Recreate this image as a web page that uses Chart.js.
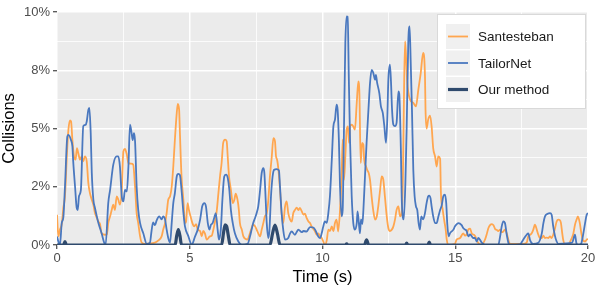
<!DOCTYPE html>
<html>
<head>
<meta charset="utf-8">
<script src="https://cdn.jsdelivr.net/npm/chart.js@4"></script>
<style>
  html, body { margin: 0; padding: 0; background: #fff; }
  #wrap { width: 598px; height: 294px; }
</style>
</head>
<body>
<div id="wrap"><canvas id="collisions" width="598" height="294"></canvas></div>
<script>
// Collision percentage over time (s)
const santeTimes = [
  0.00,0.05,0.11,0.18,0.24,0.30,0.37,0.43,0.49,0.53,
  0.58,0.64,0.70,0.75,0.80,0.87,0.93,0.99,1.05,1.12,
  1.18,1.24,1.31,1.37,1.43,1.50,1.56,1.62,1.68,1.81,
  1.88,1.93,2.00,2.06,2.12,2.18,2.25,2.31,2.37,2.44,
  2.50,2.56,2.63,2.69,2.79,2.87,2.94,3.00,3.06,3.13,
  3.19,3.31,3.69,3.82,3.94,4.00,4.07,4.13,4.19,4.26,
  4.32,4.38,4.44,4.51,4.55,4.60,4.63,4.69,4.76,4.82,
  4.86,4.92,4.97,5.03,5.10,5.17,5.24,5.30,5.39,5.45,
  5.51,5.57,5.64,5.76,5.83,5.89,5.95,6.02,6.08,6.14,
  6.20,6.26,6.33,6.39,6.43,6.48,6.55,6.62,6.68,6.73,
  6.77,6.82,6.85,6.89,6.96,7.02,7.18,7.23,7.31,7.39,
  7.46,7.52,7.58,7.65,7.71,7.77,7.83,7.90,7.96,8.02,
  8.09,8.15,8.21,8.25,8.29,8.34,8.40,8.46,8.52,8.59,
  8.65,8.71,8.78,8.84,8.90,8.96,9.03,9.09,9.15,9.22,
  9.28,9.34,9.40,9.47,9.53,9.59,9.65,9.72,9.78,9.84,
  9.91,9.97,10.03,10.09,10.16,10.22,10.28,10.35,10.41,10.47,
  10.53,10.59,10.66,10.72,10.76,10.81,10.86,10.91,10.96,11.00,
  11.04,11.10,11.16,11.22,11.29,11.35,11.39,11.44,11.49,11.54,
  11.57,11.64,11.69,11.74,11.79,11.85,11.91,11.98,12.04,12.10,
  12.17,12.23,12.29,12.35,12.42,12.48,12.54,12.61,12.67,12.73,
  12.79,12.86,12.92,12.98,13.03,13.07,13.11,13.15,13.19,13.30,
  13.42,13.52,13.61,13.70,13.79,13.86,13.88,13.92,13.98,14.05,
  14.11,14.17,14.24,14.30,14.36,14.43,14.46,14.53,14.58,14.64,
  14.68,14.73,14.99,15.05,15.18,15.30,15.37,15.43,15.49,15.56,
  15.62,15.74,15.86,16.00,16.12,16.18,16.25,16.31,16.38,16.44,
  16.50,16.56,16.62,16.69,16.75,16.81,16.87,16.94,17.00,17.06,
  17.56,17.69,17.75,17.82,17.88,17.94,18.00,18.07,18.13,18.19,
  18.26,18.32,18.38,18.44,18.50,18.57,18.63,18.69,18.76,18.82,
  18.88,18.94,18.98,19.03,19.07,19.13,19.26,19.39,19.45,19.51,
  19.57,19.62,19.69,19.75,19.81,19.89,19.95,20.00
];
const santeValues = [
  1.3,0.37,0.66,0.9,1.6,2.09,3.8,4.95,5.35,5.3,
  4.5,3.8,3.66,4.16,3.95,3.66,3.8,3.59,3.8,3.59,
  2.66,2.23,1.94,1.73,1.37,1.16,1.0,0.9,0.5,0.44,
  0.45,0.94,1.23,1.5,1.73,1.5,2.09,1.94,1.73,2.37,
  4.02,4.12,3.88,3.52,3.49,3.45,2.5,1.37,0.94,0.37,
  0.1,0.05,0.1,0.2,0.37,0.66,0.94,1.37,1.94,2.09,
  2.5,3.37,4.52,5.66,6.06,5.8,4.8,2.94,1.94,0.94,
  1.0,1.8,1.5,1.23,0.94,0.8,0.9,0.66,0.6,0.37,
  0.6,0.5,0.23,0.37,0.4,0.66,1.0,1.5,2.23,2.94,
  3.52,4.38,4.52,4.45,3.8,2.94,2.37,1.8,1.94,2.2,
  2.09,1.8,1.5,0.94,0.66,0.37,0.23,0.37,0.66,0.87,
  0.8,0.66,0.5,0.37,0.66,0.94,1.23,1.37,1.94,2.94,
  3.8,4.59,4.45,3.8,3.66,3.23,2.37,1.37,0.94,1.66,
  1.87,1.37,1.09,1.0,1.37,1.5,1.6,1.5,1.59,1.44,
  1.3,1.35,1.16,1.01,0.94,0.8,0.7,0.58,0.44,0.5,
  0.37,0.3,0.15,0.0,0.2,0.66,0.6,0.8,0.6,0.94,
  1.09,0.58,1.5,2.94,4.52,2.8,3.8,4.95,5.09,4.38,
  5.09,5.16,5.09,4.95,6.1,7.02,6.5,3.52,4.38,4.3,
  3.66,3.37,3.2,3.09,2.8,2.09,1.5,1.09,1.2,1.66,
  2.37,2.94,2.8,2.09,1.23,0.73,0.6,0.66,0.8,1.09,
  1.5,1.66,1.23,1.37,3.0,6.5,8.74,8.0,7.0,6.24,
  6.1,5.95,6.67,7.38,8.24,7.24,5.8,5.0,5.38,5.55,
  5.09,4.15,3.8,3.37,3.8,3.7,2.23,1.5,1.09,0.66,
  0.23,0.0,0.05,0.23,0.3,0.5,0.4,0.45,0.66,0.7,
  0.5,0.4,0.1,0.02,0.23,0.44,0.73,0.85,0.9,0.85,
  0.69,0.65,0.6,0.66,0.55,0.58,0.66,0.5,0.23,0.05,
  0.05,0.1,0.37,0.44,0.5,0.66,0.87,0.66,0.44,0.3,
  0.3,0.4,0.3,0.32,0.3,0.37,0.3,0.44,0.73,1.01,
  1.09,1.07,0.95,0.5,0.2,0.05,0.05,0.3,0.5,0.87,
  1.09,1.23,0.95,0.5,0.2,0.15,0.23,0.26
];

const tailorTimes = [
  0.00,0.05,0.11,0.18,0.24,0.30,0.39,0.43,0.53,0.58,
  0.61,0.68,0.74,0.78,0.83,0.90,0.99,1.08,1.12,1.18,
  1.22,1.27,1.31,1.37,1.43,1.50,1.56,1.68,1.78,1.83,
  1.93,2.00,2.12,2.25,2.31,2.37,2.44,2.50,2.56,2.63,
  2.69,2.75,2.81,2.85,2.90,2.94,3.00,3.06,3.13,3.25,
  3.38,3.50,3.56,3.62,3.69,3.75,3.85,3.94,4.00,4.07,
  4.13,4.19,4.26,4.32,4.38,4.44,4.51,4.57,4.63,4.69,
  4.76,4.82,4.95,5.01,5.07,5.20,5.30,5.39,5.47,5.55,
  5.61,5.68,5.74,5.80,5.86,5.92,5.98,6.05,6.10,6.17,
  6.23,6.30,6.37,6.43,6.49,6.55,6.62,6.70,6.83,6.96,
  7.18,7.27,7.33,7.39,7.46,7.52,7.58,7.65,7.71,7.77,
  7.81,7.86,7.90,7.96,8.00,8.06,8.12,8.18,8.27,8.36,
  8.40,8.46,8.52,8.59,8.71,8.78,8.84,8.96,9.09,9.22,
  9.28,9.40,9.53,9.65,9.72,9.84,9.91,9.97,10.03,10.09,
  10.16,10.22,10.28,10.35,10.41,10.47,10.53,10.57,10.62,10.66,
  10.72,10.76,10.81,10.86,10.91,10.95,10.99,11.04,11.10,11.16,
  11.22,11.29,11.32,11.37,11.41,11.45,11.50,11.54,11.60,11.66,
  11.73,11.79,11.85,11.91,11.98,12.01,12.06,12.14,12.20,12.27,
  12.33,12.39,12.44,12.48,12.54,12.58,12.62,12.67,12.73,12.79,
  12.86,12.89,12.95,12.99,13.06,13.12,13.17,13.23,13.28,13.32,
  13.37,13.42,13.47,13.52,13.57,13.62,13.67,13.72,13.79,13.86,
  13.92,13.98,14.02,14.07,14.11,14.17,14.24,14.30,14.36,14.43,
  14.49,14.55,14.61,14.66,14.70,14.75,14.80,14.93,14.99,15.12,
  15.24,15.30,15.37,15.43,15.49,15.56,15.68,15.74,15.81,15.87,
  16.00,16.12,16.62,16.69,16.75,16.81,16.87,16.94,17.00,17.06,
  17.44,17.56,17.69,17.75,17.82,17.93,18.13,18.26,18.32,18.38,
  18.48,18.57,18.63,18.69,18.76,18.82,18.88,19.40,19.51,19.56,
  19.62,19.74,19.81,19.89,19.95,20.00
];
const tailorValues = [
  0.37,0.15,0.0,0.95,1.2,2.5,4.66,4.73,4.5,4.23,
  3.6,2.5,1.6,1.5,2.1,2.37,5.1,5.16,5.3,5.8,
  5.88,4.8,3.1,1.94,1.59,1.23,0.94,0.5,0.09,0.0,
  1.8,2.37,3.45,3.8,3.8,3.37,2.09,1.87,2.37,2.3,
  3.37,5.16,4.8,4.5,4.8,4.45,2.5,1.5,0.94,0.5,
  0.05,0.1,0.6,0.97,0.85,1.05,1.23,1.1,1.23,1.1,
  0.66,0.3,0.1,0.94,1.8,2.23,2.94,3.05,3.0,2.37,
  1.4,0.8,0.37,0.15,0.0,0.37,0.66,1.09,1.66,1.8,
  1.66,0.94,0.66,0.87,0.94,1.16,1.37,0.66,0.23,0.66,
  1.94,2.94,3.02,2.88,2.37,1.5,0.94,0.5,0.15,0.0,
  0.05,0.37,0.66,0.94,1.16,1.37,1.66,2.37,3.09,3.3,
  3.1,1.94,0.94,0.3,0.6,2.09,2.94,3.23,3.26,3.2,
  2.5,1.37,0.66,0.23,0.3,0.5,0.58,0.44,0.66,0.55,
  0.6,0.58,0.77,0.75,0.66,0.37,0.3,0.5,0.8,1.01,
  0.95,1.37,2.09,3.66,5.09,5.38,6.02,5.8,4.38,2.5,
  1.23,1.5,5.09,8.67,9.81,9.8,7.24,4.38,2.09,0.94,
  0.66,0.94,1.44,0.94,0.5,1.1,0.9,1.5,2.94,4.38,
  5.8,6.95,7.52,7.4,7.09,7.3,6.95,6.52,5.95,5.67,
  5.09,4.38,5.38,7.09,7.74,7.0,5.8,5.16,5.1,5.24,
  6.59,6.5,4.19,1.8,1.1,2.6,5.0,8.67,9.38,7.95,
  5.8,3.23,2.09,1.66,1.5,0.94,0.66,1.23,1.1,1.37,
  1.8,2.09,2.12,2.0,1.66,1.23,0.94,0.94,1.2,1.5,
  1.7,2.09,2.16,1.8,0.9,0.37,0.5,0.66,0.8,0.94,
  0.85,0.73,0.66,0.6,0.37,0.45,0.3,0.3,0.15,0.3,
  0.1,0.0,0.0,0.37,0.8,1.01,0.95,0.44,0.1,0.0,
  0.03,0.23,0.44,0.5,0.2,0.05,0.1,0.5,0.94,1.23,
  1.34,1.37,1.3,0.8,0.37,0.15,0.05,0.1,0.44,0.1,
  0.0,0.05,0.4,0.94,1.3,1.37
];

const oursTimes = [0,0.25,0.3,0.35, 4.45,4.51,4.57,4.63,4.69, 6.2,6.27,6.33,6.39,6.46,6.52,
  8.02,8.12,8.21,8.3,8.4, 10.87,10.91,10.95, 11.58,11.66,11.74, 13.12,13.17,13.22,
  13.97,14.02,14.07, 20];
const oursValues = [0,0,0.15,0, 0,0.4,0.66,0.4,0, 0,0.5,0.87,0.8,0.35,0,
  0,0.5,0.85,0.5,0, 0,0.05,0, 0,0.22,0, 0,0.08,0,
  0,0.12,0, 0];

const seriesNames = ["Santesteban", "TailorNet", "Our method"];
const seriesColors = ["#FFA64F", "#4A78BF", "#2F4A6D"];
const seriesWidths = [1.8, 1.8, 3.2];

const yTickValues = [0, 2.5, 5, 7.5, 10];
const yTickLabels = ["0%", "2%", "5%", "8%", "10%"];
const xTickValues = [0, 5, 10, 15, 20];
const xTickLabels = ["0", "5", "10", "15", "20"];

function toPoints(times, values) {
  const n = Math.min(times.length, values.length);
  const pts = [];
  for (let i = 0; i < n; i++) pts.push({ x: times[i], y: values[i] });
  return pts;
}

// grey ggplot-like panel behind the grid
const panelBackground = {
  id: "panelBackground",
  beforeDraw(chart) {
    const { ctx, chartArea: a } = chart;
    ctx.save();
    ctx.fillStyle = "#EBEBEB";
    ctx.fillRect(a.left, a.top, a.right - a.left, a.bottom - a.top);
    ctx.restore();
  }
};

// legend drawn inside the top right of the panel
const insideLegend = {
  id: "insideLegend",
  afterDatasetsDraw(chart) {
    const { ctx, chartArea: a } = chart;
    const w = 149, h = 95;
    const left = a.right - 2 - w, top = a.top + 2;
    ctx.save();
    ctx.fillStyle = "#FFFFFF";
    ctx.fillRect(left, top, w, h);
    ctx.strokeStyle = "#D9D9D9";
    ctx.lineWidth = 1;
    ctx.strokeRect(left + 0.5, top + 0.5, w - 1, h - 1);
    ctx.font = "13.5px 'Liberation Sans', Arial, sans-serif";
    ctx.textBaseline = "middle";
    chart.data.datasets.forEach((ds, i) => {
      const ky = top + 10 + i * 26.5;
      ctx.fillStyle = "#F0F0F0";
      ctx.fillRect(left + 9, ky, 24, 25);
      const cy = ky + 12.5;
      ctx.strokeStyle = ds.borderColor;
      ctx.lineWidth = ds.borderWidth;
      ctx.beginPath();
      ctx.moveTo(left + 11, cy);
      ctx.lineTo(left + 31, cy);
      ctx.stroke();
      ctx.fillStyle = "#1A1A1A";
      ctx.fillText(ds.label, left + 41, cy + 1);
    });
    ctx.restore();
  }
};

const isMajorY = v => yTickValues.some(t => Math.abs(t - v) < 1e-6);
const isMajorX = v => xTickValues.some(t => Math.abs(t - v) < 1e-6);
const tickFont = { family: "'Liberation Sans', Arial, sans-serif", size: 13 };
const titleFont = { family: "'Liberation Sans', Arial, sans-serif", size: 16.5 };

new Chart(document.getElementById("collisions").getContext("2d"), {
  type: "line",
  data: {
    datasets: [
      { label: seriesNames[0], data: toPoints(santeTimes, santeValues), order: 3 },
      { label: seriesNames[1], data: toPoints(tailorTimes, tailorValues), order: 2 },
      { label: seriesNames[2], data: toPoints(oursTimes, oursValues), order: 1 }
    ].map((ds, i) => Object.assign(ds, {
      borderColor: seriesColors[i],
      backgroundColor: seriesColors[i],
      borderWidth: seriesWidths[i],
      pointRadius: 0,
      fill: false,
      cubicInterpolationMode: "monotone"
    }))
  },
  options: {
    responsive: false,
    animation: false,
    devicePixelRatio: 1,
    layout: { padding: { left: 0, top: 12, right: 10, bottom: 0 } },
    plugins: {
      legend: { display: false },
      tooltip: { enabled: false }
    },
    scales: {
      x: {
        type: "linear",
        min: 0,
        max: 20,
        afterFit: s => { s.height = 49; },
        border: { display: false },
        grid: {
          color: "#FFFFFF",
          lineWidth: c => isMajorX(c.tick.value) ? 1.5 : 0.8,
          tickLength: 4,
          tickColor: c => isMajorX(c.tick.value) ? "#333333" : "rgba(0,0,0,0)",
          tickWidth: 1.1
        },
        ticks: {
          stepSize: 2.5,
          autoSkip: false,
          maxRotation: 0,
          padding: 2,
          color: "#4D4D4D",
          font: tickFont,
          callback: v => {
            const i = xTickValues.findIndex(t => Math.abs(t - v) < 1e-6);
            return i >= 0 ? xTickLabels[i] : "";
          }
        },
        title: {
          display: true,
          text: "Time (s)",
          color: "#000000",
          font: titleFont,
          padding: { top: 0, bottom: 7 }
        }
      },
      y: {
        min: 0,
        max: 10,
        afterFit: s => { s.width = 57; },
        border: { display: false },
        grid: {
          color: "#FFFFFF",
          lineWidth: c => isMajorY(c.tick.value) ? 1.5 : 0.8,
          tickLength: 4,
          tickColor: c => isMajorY(c.tick.value) ? "#333333" : "rgba(0,0,0,0)",
          tickWidth: 1.1
        },
        ticks: {
          stepSize: 1.25,
          autoSkip: false,
          padding: 3,
          color: "#4D4D4D",
          font: tickFont,
          callback: v => {
            const i = yTickValues.findIndex(t => Math.abs(t - v) < 1e-6);
            return i >= 0 ? yTickLabels[i] : "";
          }
        },
        title: {
          display: true,
          text: "Collisions",
          color: "#000000",
          font: titleFont,
          padding: { top: 0, bottom: 0 }
        }
      }
    }
  },
  plugins: [panelBackground, insideLegend]
});
</script>
</body>
</html>
